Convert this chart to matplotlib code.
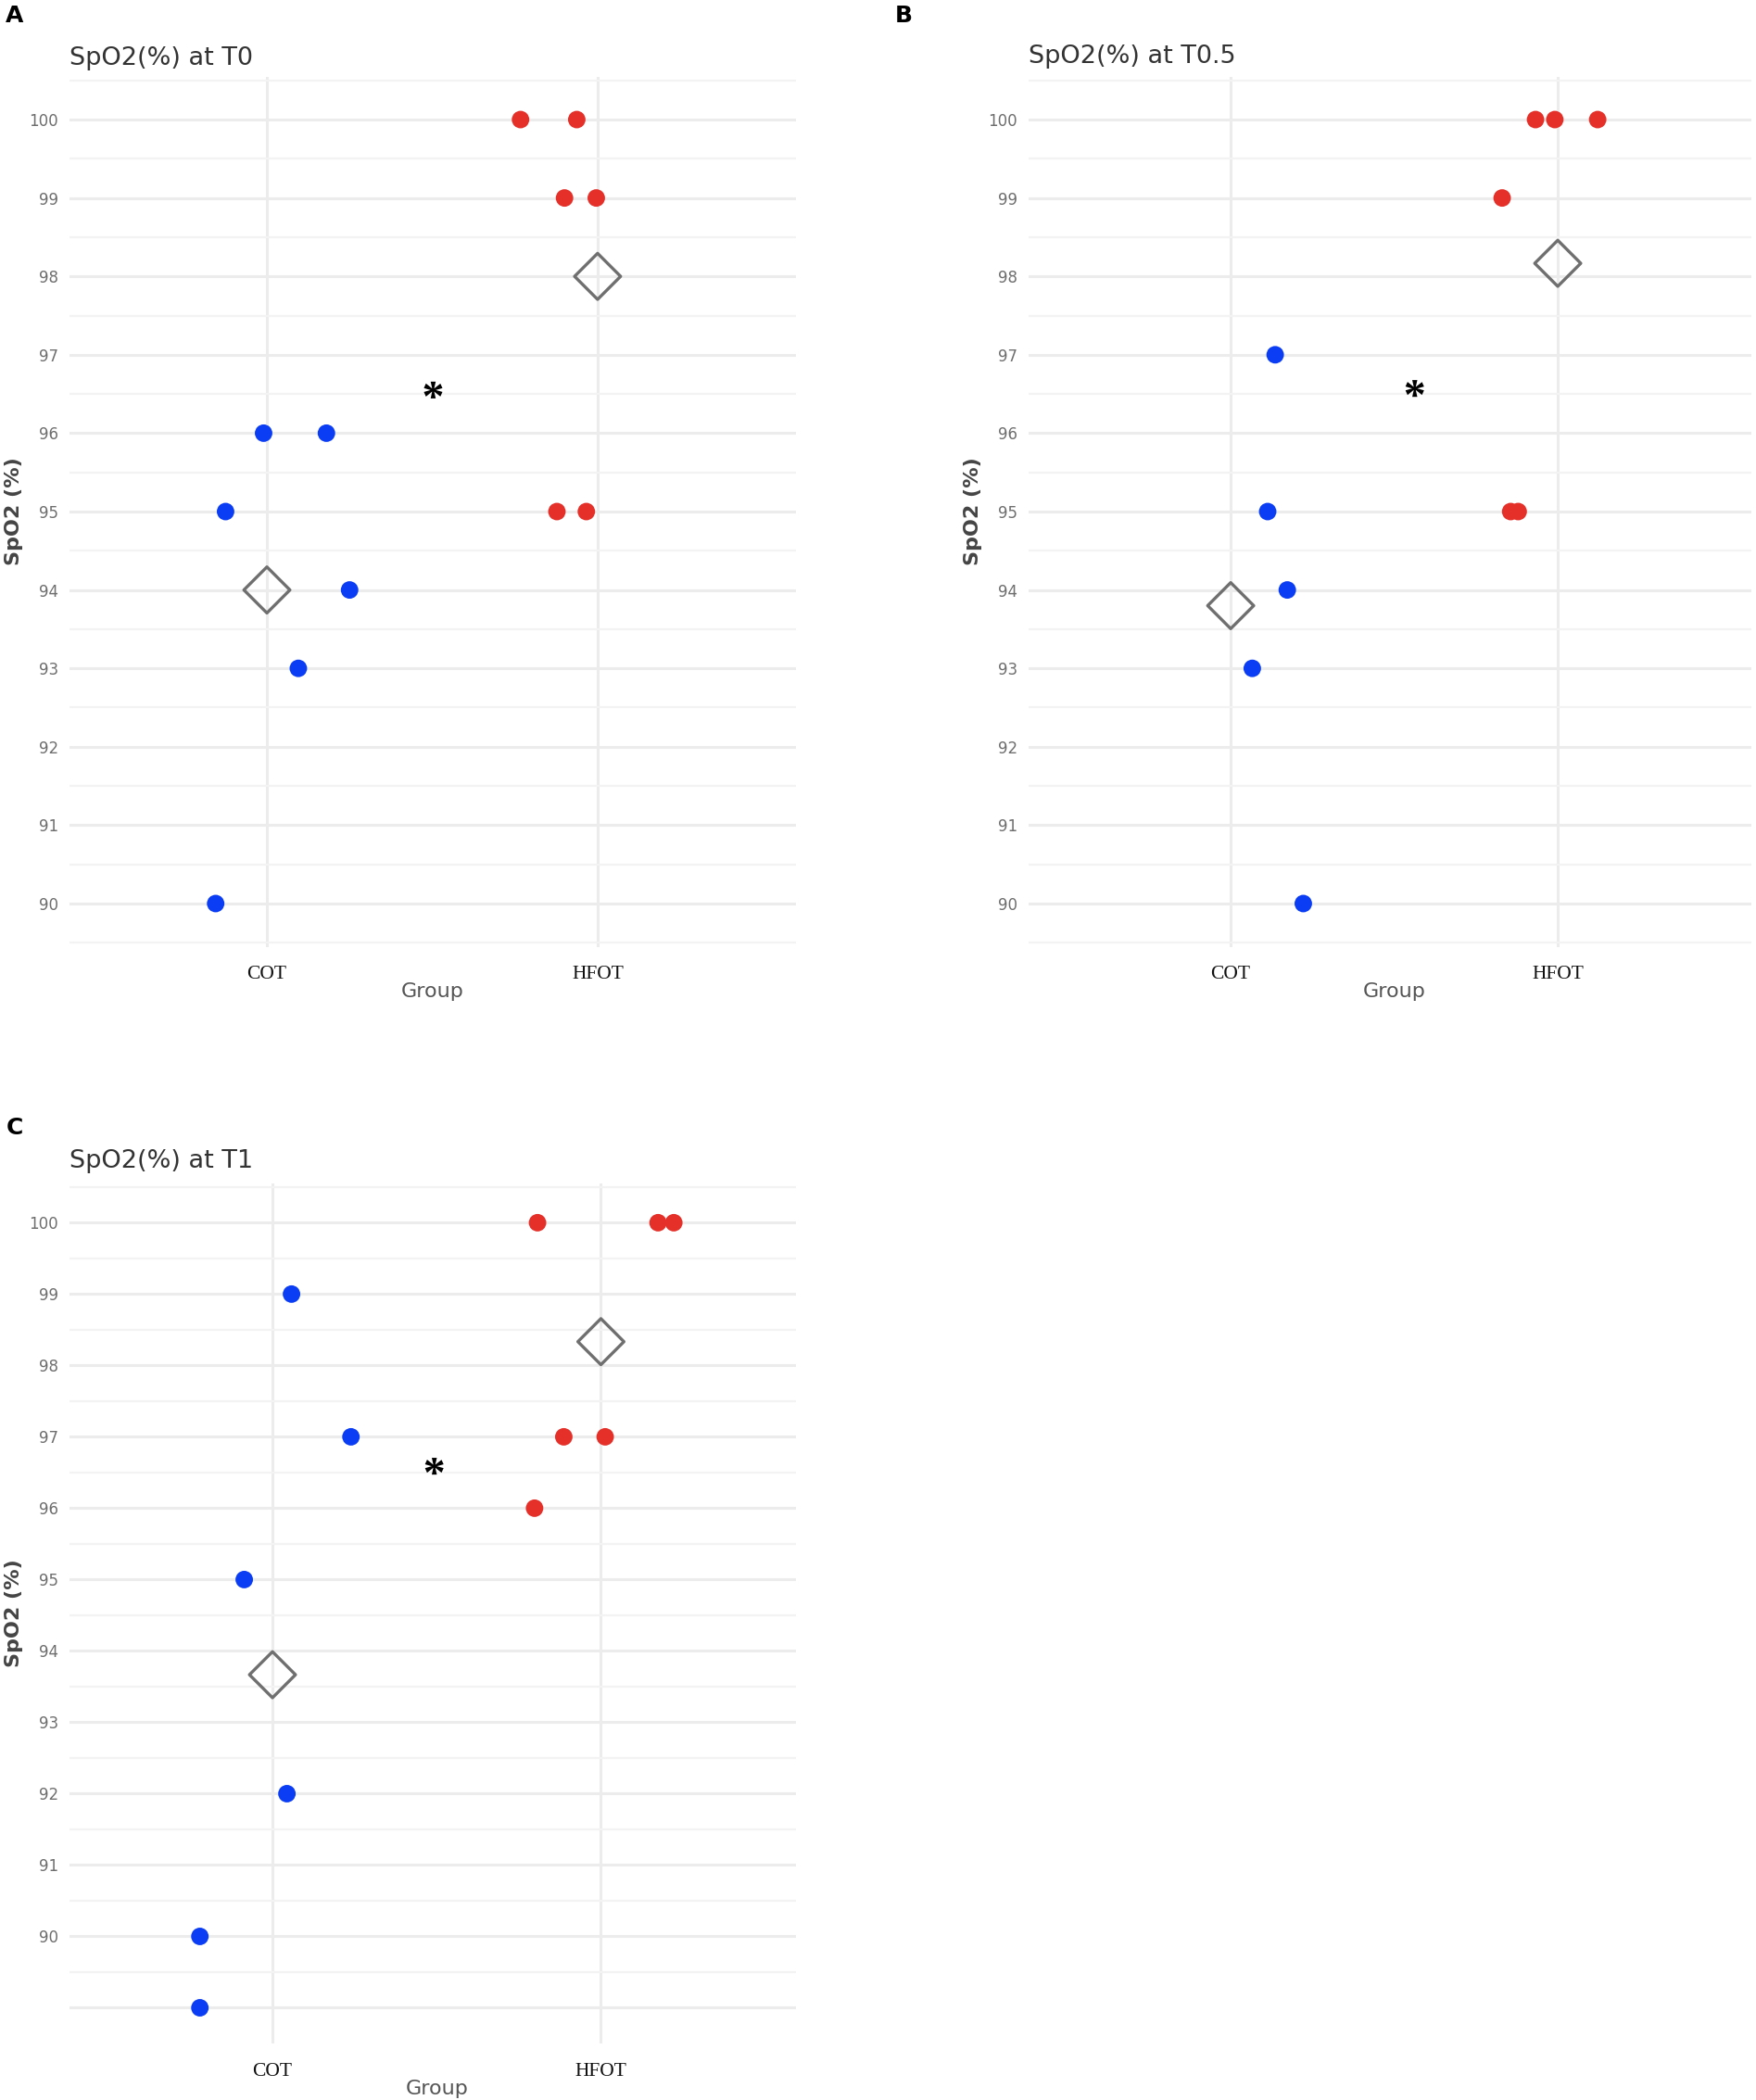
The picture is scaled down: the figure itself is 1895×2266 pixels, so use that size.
import numpy as np
import matplotlib
matplotlib.use("Agg")
import matplotlib.pyplot as plt
from matplotlib.textpath import TextPath
from matplotlib.font_manager import FontProperties
from matplotlib.path import Path

# ---------------- data ----------------
groups = ["COT", "HFOT"]
panel_letters = ["A", "B", "C"]
titles = ["SpO2(%) at T0", "SpO2(%) at T0.5", "SpO2(%) at T1"]
y_label = "SpO2 (%)"
x_label = "Group"

# T0
t0_cot_y = [96, 96, 95, 94, 93, 90]
t0_cot_x = [0.99, 1.18, 0.875, 1.25, 1.095, 0.845]
t0_hfot_y = [100, 100, 99, 99, 95, 95]
t0_hfot_x = [1.767, 1.937, 1.90, 1.996, 1.877, 1.966]

# T0.5
t05_cot_y = [97, 95, 94, 93, 90]
t05_cot_x = [1.136, 1.113, 1.173, 1.066, 1.222]
t05_hfot_y = [100, 100, 100, 99, 95, 95]
t05_hfot_x = [1.932, 1.991, 2.122, 1.830, 1.856, 1.879]

# T1
t1_cot_y = [99, 97, 95, 92, 90, 89]
t1_cot_x = [1.058, 1.239, 0.914, 1.044, 0.779, 0.779]
t1_hfot_y = [100, 100, 100, 97, 97, 96]
t1_hfot_x = [1.807, 2.174, 2.222, 1.887, 2.013, 1.798]

# significance asterisk (x, y) per panel
sig_x = [1.50, 1.56, 1.49]
sig_y = [96.47, 96.49, 96.50]

y_ticks_ab = list(range(90, 101))
y_ticks_c = list(range(89, 101))
y_ticklabels_c = [""] + [str(v) for v in range(90, 101)]

panels = [
    (t0_cot_x, t0_cot_y, t0_hfot_x, t0_hfot_y),
    (t05_cot_x, t05_cot_y, t05_hfot_x, t05_hfot_y),
    (t1_cot_x, t1_cot_y, t1_hfot_x, t1_hfot_y),
]

# ---------------- styling ----------------
W, H = 1895, 2266
BLUE = "#0b3df5"
RED = "#e5302a"
GRID_MAJ = "#ececec"
GRID_MIN = "#f3f3f3"

fig = plt.figure(figsize=(W / 100, H / 100), dpi=100)
fig.patch.set_facecolor("white")

# axes boxes in pixels: left, right, top, bottom
boxes = [
    (75, 859, 82.5, 1021.5),
    (1110, 1890, 82.5, 1021.5),
    (75, 859, 1277, 2205),
]
xlims = [(0.403, 2.60), (0.382, 2.592), (0.382, 2.594)]
ylims = [(89.45, 100.55), (89.45, 100.55), (88.5, 100.55)]
title_base = [70, 68, 1260]
letter_pos = [(6, 24), (966, 24), (7, 1224)]

# asterisk marker from bold serif font, centered
tp = TextPath((0, 0), "*", prop=FontProperties(family="Liberation Serif", weight="bold"), size=10)
v = tp.vertices.copy()
vmin, vmax = v.min(axis=0), v.max(axis=0)
v = v - (vmin + vmax) / 2.0
star_path = Path(v, tp.codes)

for i, (cx, cy, hx, hy) in enumerate(panels):
    l, r, t, b = boxes[i]
    ax = fig.add_axes([l / W, 1 - b / H, (r - l) / W, (b - t) / H])
    ax.set_xlim(*xlims[i])
    ax.set_ylim(*ylims[i])
    for s in ax.spines.values():
        s.set_visible(False)

    if i < 2:
        ax.set_yticks(y_ticks_ab)
        ax.set_yticklabels([str(v_) for v_ in y_ticks_ab])
    else:
        ax.set_yticks(y_ticks_c)
        ax.set_yticklabels(y_ticklabels_c)
    minors = np.arange(89.5, 100.6, 1.0)
    ax.set_yticks(minors, minor=True)
    ax.set_xticks([1, 2])
    ax.set_xticklabels(groups, fontfamily="Liberation Serif", fontsize=15.5, color="#111111")
    ax.tick_params(axis="x", length=0, pad=15)
    ax.tick_params(axis="y", which="both", length=0, pad=8.5, labelsize=12, labelcolor="#6e6e6e")

    ax.grid(True, which="major", axis="both", color=GRID_MAJ, lw=2.2, zorder=0)
    ax.grid(True, which="minor", axis="y", color=GRID_MIN, lw=1.6, zorder=0)
    ax.set_axisbelow(True)

    ax.scatter(cx, cy, s=185, color=BLUE, edgecolors="none", zorder=3)
    ax.scatter(hx, hy, s=185, color=RED, edgecolors="none", zorder=3)

    means = [np.mean(cy), np.mean(hy)]
    ax.scatter([1, 2], means, marker="D", s=640, facecolors="none",
               edgecolors="#6f6f6f", linewidths=2.4, zorder=4)

    ax.scatter([sig_x[i]], [sig_y[i]], marker=star_path, s=520, color="black",
               edgecolors="none", zorder=5)

    ax.set_ylabel(y_label, fontsize=16, color="#444444", fontweight="bold")
    ax.yaxis.set_label_coords(-50.0 / (r - l), 0.5)

    ax.annotate(x_label, xy=(1.5, 0), xycoords=("data", "axes fraction"),
                xytext=(0, -49 * 0.72), textcoords="offset points",
                ha="center", va="center", fontsize=16, color="#555555")

    fig.text((l) / W, 1 - title_base[i] / H, titles[i], fontsize=19.5,
             color="#333333", ha="left", va="baseline")
    fig.text(letter_pos[i][0] / W, 1 - letter_pos[i][1] / H, panel_letters[i],
             fontsize=18, fontweight="bold", color="black", ha="left", va="baseline")

fig.savefig("out.png", dpi=100, facecolor="white")
